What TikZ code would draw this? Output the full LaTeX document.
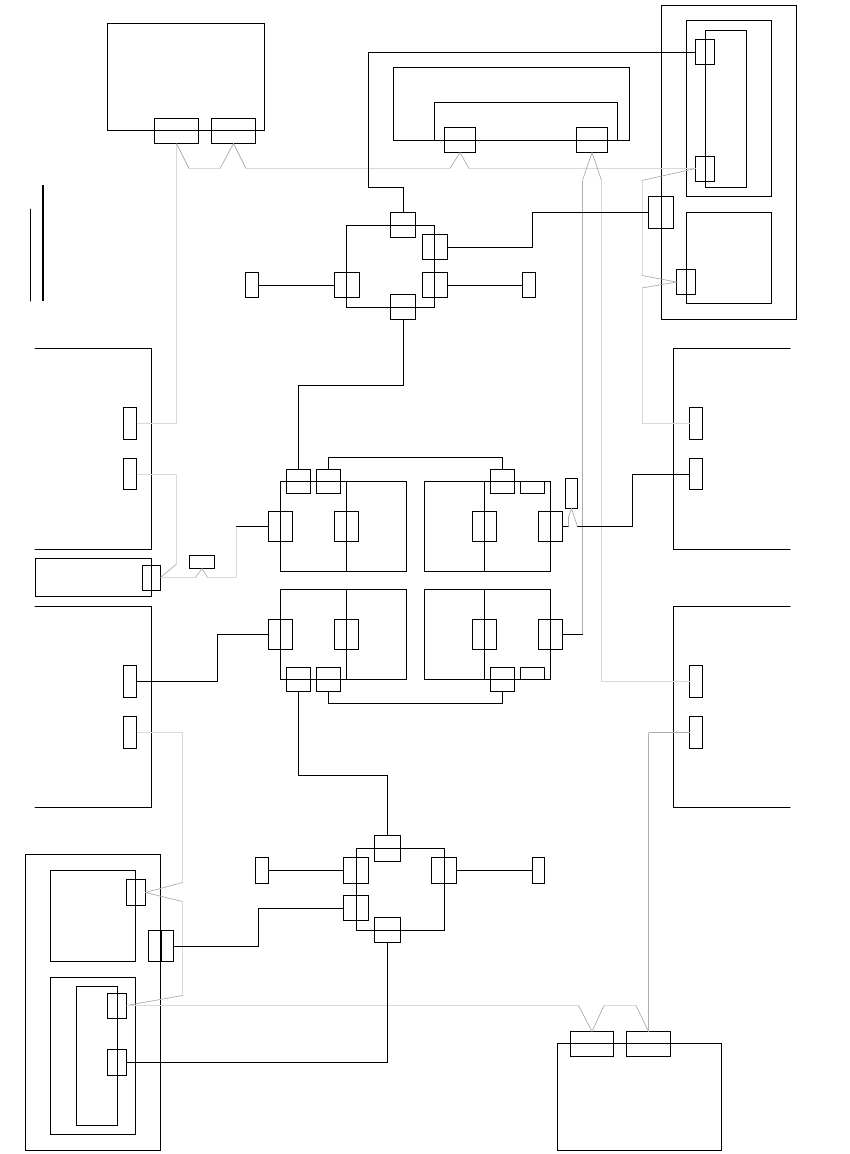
\documentclass[tikz,border=0pt]{standalone}
\usepackage{xcolor}
\tikzset{
  block/.style 2 args={draw,black,line width=1pt,inner sep=0pt,outer sep=0pt,minimum width=#1,minimum height=#2},
  link/.style={black,line width=1pt,line cap=round},
  tap/.style={gray!30,line width=1pt},
  tapdark/.style={gray!65,line width=1pt},
  tapslant/.style={gray!65,line width=.7pt}
}
\begin{document}
\begin{tikzpicture}[x=1pt,y=-1pt]
\useasboundingbox (0,0) rectangle (850,1154);
\node[block={157}{107}] (topunit) at (186,77) {};
\node[block={44}{25}] (topa) at (176.5,131) {};
\node[block={44}{25}] (topb) at (233.5,131) {};
\node[block={236}{73}] (frame) at (511.5,104) {};
\node[block={183}{38}] (frameinner) at (526,121.5) {};
\node[block={31}{25}] (framea) at (460,140) {};
\node[block={31}{25}] (frameb) at (592,140) {};
\node[block={135}{314}] (rightouter) at (729,162.5) {};
\node[block={85}{176}] (rightone) at (729,108.5) {};
\node[block={41}{157}] (rightcore) at (726,109) {};
\node[block={85}{91}] (righttwo) at (729,258) {};
\node[block={19}{25}] (righta) at (705,52) {};
\node[block={19}{25}] (rightb) at (705,169) {};
\node[block={25}{32}] (rightc) at (661,212.5) {};
\node[block={19}{25}] (rightd) at (686,282) {};
\node[block={88}{82}] (upring) at (390.5,266.5) {};
\node[block={25}{25}] (uptop) at (403,225) {};
\node[block={25}{25}] (upside) at (435,247) {};
\node[block={25}{25}] (upleft) at (347,285) {};
\node[block={25}{25}] (upright) at (435,285) {};
\node[block={25}{25}] (upbot) at (403,307) {};
\node[block={13}{25}] (upstuba) at (252,285) {};
\node[block={13}{25}] (upstubb) at (529,285) {};
\node[block={13}{32}] (lefta) at (130,423.5) {};
\node[block={13}{31}] (leftb) at (130,474) {};
\node[block={13}{32}] (leftc) at (130,681.5) {};
\node[block={13}{32}] (leftd) at (130,732.5) {};
\node[block={116}{38}] (leftbar) at (93.5,577.5) {};
\node[block={18}{25}] (leftbarp) at (151.5,578) {};
\node[block={25}{13}] (tiny) at (202,562) {};
\node[block={13}{32}] (ra) at (696,423.5) {};
\node[block={13}{31}] (rb) at (696,474) {};
\node[block={13}{32}] (rc) at (696,681.5) {};
\node[block={13}{32}] (rd) at (696,732.5) {};
\node[block={126}{90}] (tl) at (343.5,526.5) {};
\node[block={24}{30}] (tlw) at (280.5,526.5) {};
\node[block={24}{30}] (tlm) at (346.5,526.5) {};
\node[block={24}{24}] (tla) at (298.5,481.5) {};
\node[block={24}{24}] (tlb) at (328.5,481.5) {};
\node[block={126}{90}] (tr) at (487.5,526.5) {};
\node[block={24}{30}] (trm) at (484.5,526.5) {};
\node[block={24}{30}] (tre) at (550.5,526.5) {};
\node[block={24}{24}] (tra) at (502.5,481.5) {};
\node[block={24}{12}] (trs) at (532.5,487.5) {};
\node[block={12}{30}] (trv) at (571.5,493.5) {};
\node[block={126}{90}] (bl) at (343.5,634.5) {};
\node[block={24}{30}] (blw) at (280.5,634.5) {};
\node[block={24}{30}] (blm) at (346.5,634.5) {};
\node[block={24}{24}] (bla) at (298.5,679.5) {};
\node[block={24}{24}] (blb) at (328.5,679.5) {};
\node[block={126}{90}] (br) at (487.5,634.5) {};
\node[block={24}{30}] (brm) at (484.5,634.5) {};
\node[block={24}{30}] (bre) at (550.5,634.5) {};
\node[block={24}{24}] (bra) at (502.5,679.5) {};
\node[block={24}{12}] (brs) at (532.5,673.5) {};
\node[block={88}{82}] (lowring) at (400.5,889.5) {};
\node[block={26}{26}] (lowtop) at (387.5,848.5) {};
\node[block={25}{26}] (lowleft) at (356,870.5) {};
\node[block={25}{25}] (lowside) at (356,908) {};
\node[block={25}{26}] (lowright) at (444,870.5) {};
\node[block={26}{25}] (lowbot) at (387.5,930) {};
\node[block={13}{26}] (lowstuba) at (262,870.5) {};
\node[block={12}{26}] (lowstubb) at (538.5,870.5) {};
\node[block={135}{296}] (leftouter) at (93,1002.5) {};
\node[block={85}{91}] (leftone) at (93,916) {};
\node[block={85}{157}] (lefttwo) at (93,1056) {};
\node[block={41}{139}] (leftcore) at (97,1056) {};
\node[block={19}{26}] (lefte) at (136,892.5) {};
\node[block={25}{31}] (leftf) at (161,946) {};
\node[block={19}{25}] (leftg) at (117,1006) {};
\node[block={19}{26}] (lefth) at (117,1062.5) {};
\node[block={164}{107}] (botunit) at (639.5,1097) {};
\node[block={43}{25}] (bota) at (592,1044) {};
\node[block={44}{25}] (botb) at (648.5,1044) {};
\draw[link] (30.5,209) -- (30.5,301);
\draw[link,line width=2pt,line cap=butt] (43,185) -- (43,301);
\draw[link] (35,348.5) -- (151.5,348.5) -- (151.5,549.5) -- (35,549.5);
\draw[link] (35,606.5) -- (151.5,606.5) -- (151.5,807.5) -- (35,807.5);
\draw[link] (790,348.5) -- (673.5,348.5) -- (673.5,549.5) -- (790,549.5);
\draw[link] (790,606.5) -- (673.5,606.5) -- (673.5,807.5) -- (790,807.5);
\draw[link] (tlm.center |- tl.north) -- (tlm.center |- tl.south);
\draw[link] (trm.center |- tr.north) -- (trm.center |- tr.south);
\draw[link] (blm.center |- bl.north) -- (blm.center |- bl.south);
\draw[link] (brm.center |- br.north) -- (brm.center |- br.south);
\draw[link] (leftf.north) -- (leftf.south);
\draw[tap] (lefta.east) -- (176.5,423.5) -- (topa.south);
\draw[tap] (189,168.5) -- (220,168.5);
\draw[tap] (246,168.5) -- (450,168.5);
\draw[tap] (469,168.5) -- ([yshift=.5pt]rightb.west);
\draw[tapslant] (topa.south) -- (189,168.5);
\draw[tapslant] (220,168.5) -- (topb.south) -- (246,168.5);
\draw[tapslant] (450,168.5) -- (framea.south) -- (469,168.5);
\draw[tapslant] (642,180.5) -- ([yshift=.5pt]rightb.west);
\draw[tap] (642,180.5) -- (642,275.5);
\draw[tapslant] (642,275.5) -- (rightd.west) -- (642,288);
\draw[tap] (642,288) -- (642,423.5) -- (ra.west);
\draw[tapslant] (582.5,180.5) -- (frameb.south) -- (601.5,180.5);
\draw[tapdark] (582.5,180.5) -- (582.5,634.5);
\draw[link] (bre.east) -- (582.5,634.5);
\draw[tap] (601.5,180.5) -- (601.5,681.5) -- (rc.west);
\draw[tap] ([yshift=-.5pt]leftb.east) -- (176.5,474.5) -- (176.5,564);
\draw[tapslant] (176.5,564) -- ([yshift=.5pt]leftbarp.east);
\draw[tap] ([yshift=.5pt]leftbarp.east) -- (195.5,577.5);
\draw[tapslant] (195.5,577.5) -- (tiny.south) -- (207.5,577.5);
\draw[tap] (207.5,577.5) -- (236.5,577.5) -- (236.5,526.5);
\draw[link] (236.5,526.5) -- (tlw.west);
\draw[tap] (leftd.east) -- (182.5,732.5) -- (182.5,882.5);
\draw[tapslant] (182.5,882.5) -- (lefte.east) -- (182.5,901.5);
\draw[tap] (182.5,901.5) -- (182.5,995.5);
\draw[tapslant] (182.5,995.5) -- ([yshift=.5pt]leftg.east);
\draw[tap] ([yshift=.5pt]leftg.east) -- (578.5,1005.5);
\draw[tapslant] (578.5,1005.5) -- (bota.north) -- (604,1005.5);
\draw[tap] (604,1005.5) -- (636,1005.5);
\draw[tapslant] (636,1005.5) -- (botb.north);
\draw[tapdark] (botb.north) -- (648.5,732.5);
\draw[tapdark] (648.5,732.5) -- (rd.west);
\draw[link] ([yshift=-.5pt]righta.west) -- (368.5,52.5) -- (368.5,187.5) -- (403.5,187.5) -- ([xshift=.5pt]uptop.north);
\draw[link] ([yshift=-.5pt]upside.east) -- (532.5,247.5) -- (532.5,212.5) -- (rightc.west);
\draw[link] ([yshift=-.5pt]upstuba.east) -- ([yshift=-.5pt]upleft.west);
\draw[link] ([yshift=-.5pt]upright.east) -- ([yshift=-.5pt]upstubb.west);
\draw[link] ([xshift=.5pt]upbot.south) -- (403.5,385.5) -- (298.5,385.5) -- (tla.north);
\draw[link] (tlb.north) -- (328.5,457.5) -- (502.5,457.5) -- (tra.north);
\draw[link] (blb.south) -- (328.5,703.5) -- (502.5,703.5) -- (bra.south);
\draw[link] (tre.east) -- (568.5,526.5);
\draw[tapslant] (568.5,526.5) -- (568.5,517) -- (trv.south) -- (577.5,526.5);
\draw[link] (577.5,526.5) -- (632.5,526.5) -- (632.5,474.5) -- ([yshift=-.5pt]rb.west);
\draw[link] (leftc.east) -- (217.5,681.5) -- (217.5,634.5) -- (blw.west);
\draw[link] (bla.south) -- (298.5,775.5) -- (387.5,775.5) -- (lowtop.north);
\draw[link] (lowstuba.east) -- (lowleft.west);
\draw[link] (lowright.east) -- (lowstubb.west);
\draw[link] ([yshift=-.5pt]leftf.east) -- (258.5,946.5) -- (258.5,908.5) -- ([yshift=-.5pt]lowside.west);
\draw[link] (lefth.east) -- (387.5,1062.5) -- (lowbot.south);
\end{tikzpicture}
\end{document}
